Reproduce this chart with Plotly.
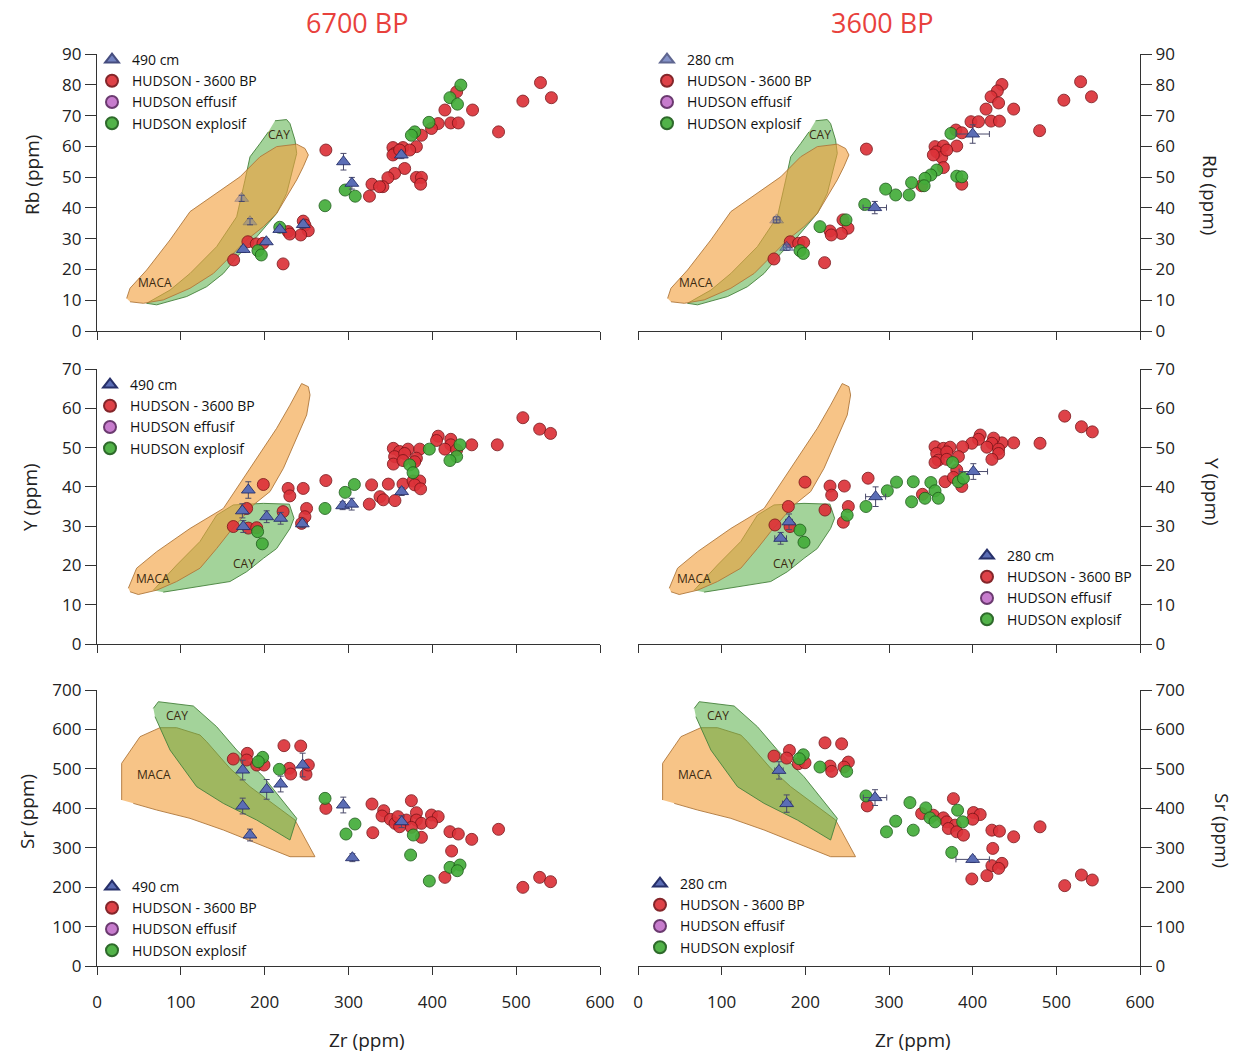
import plotly.graph_objects as go

# ---------------- tick values ----------------
ZR_TICKS = [0, 100, 200, 300, 400, 500, 600]
RB_TICKS = [0, 10, 20, 30, 40, 50, 60, 70, 80, 90]
Y_TICKS = [0, 10, 20, 30, 40, 50, 60, 70]
SR_TICKS = [0, 100, 200, 300, 400, 500, 600, 700]

COL_TITLES = ["6700 BP", "3600 BP"]
ROW_TITLES = ["Rb (ppm)", "Y (ppm)", "Sr (ppm)"]
TRI_NAMES = ["490 cm", "280 cm"]
SERIES_NAMES = ["HUDSON - 3600 BP", "HUDSON effusif", "HUDSON explosif"]

# ---------------- reference fields (MACA / CAY) ----------------
MACA_RB_X = [35.4, 39.4, 59.2, 87.1, 111, 142.7, 170.6, 194.4, 214.3, 238.2, 248.1, 252.1, 246.1, 238.2, 226.2, 214.3, 198.4, 178.5, 158.6, 138.8, 111, 79.1, 55.3, 39.4]
MACA_RB_Y = [10.6, 13.9, 19.8, 29.6, 38.8, 44.7, 50.1, 56.6, 59.9, 60.7, 59.3, 57.2, 53.4, 49.1, 43.6, 38.2, 33.9, 29.6, 24.1, 18.7, 13.9, 10.1, 9.0, 9.5]
CAY_RB_X = [212.3, 226.2, 230.2, 236.2, 238.2, 232.2, 226.2, 214.3, 190.5, 170.6, 150.7, 130.8, 107, 71.2, 59.2, 87.1, 111, 142.7, 166.6, 176.5, 182.5, 194.4, 204.4]
CAY_RB_Y = [68.3, 68.7, 67.4, 62, 57.7, 51.2, 44.7, 38.2, 30.6, 25.2, 18.7, 14.4, 11.2, 8.5, 9.0, 13.3, 18.7, 27.4, 37.1, 49, 56.6, 60.9, 64.7]

MACA_Y_X = [37.4, 47.3, 71.2, 110.9, 150.7, 182.5, 214.3, 230.2, 244.1, 252.1, 254.1, 250.1, 238.2, 222.3, 206.4, 186.5, 158.6, 142.7, 122.9, 95, 71.2, 49.3, 39.4]
MACA_Y_Y = [14.2, 19.3, 23.5, 29.4, 34.5, 44.7, 54.9, 60.8, 66.3, 65.5, 63.4, 58.3, 52.4, 44.7, 38.8, 35.4, 28.6, 24.3, 19.3, 15.9, 13.7, 12.6, 13.3]
CAY_Y_X = [67.2, 95, 122.9, 142.7, 162.6, 198.4, 229.4, 235, 230.2, 214.3, 198.4, 178.5, 158.6, 110.9, 79.1]
CAY_Y_Y = [13.7, 20.1, 26.1, 32.8, 35.4, 35.8, 35.6, 32, 29.4, 24.3, 21.8, 18.4, 15.9, 14.2, 13.2]

MACA_SR_X = [29.4, 29.4, 51.3, 75.1, 95, 122.9, 130.8, 158.6, 182.5, 236.2, 260, 230.2, 150.7, 110.9, 71.2, 43.3]
MACA_SR_Y = [421, 514, 581.6, 604.4, 604.4, 585.8, 568.9, 501.3, 454.8, 370.2, 277.2, 277.2, 344.9, 374.5, 395.6, 412.5]
CAY_SR_X = [67.2, 73.2, 114.9, 142.7, 166.6, 198.4, 238.2, 230.2, 190.5, 150.7, 118.9, 87.1, 69.2]
CAY_SR_Y = [653.4, 670.3, 659.4, 607, 547.8, 480.1, 374.5, 319.5, 370.2, 412.5, 454.8, 547.8, 632.3]

# field label anchor points (data coords)
LBL_RB = {"MACA": (69, 15.7), "CAY": (217, 63.8)}
LBL_Y = {"MACA": (67, 16.7), "CAY": (175, 20.5)}
LBL_SR = {"MACA": (68, 485), "CAY": (96, 635)}

# ---------------- 6700 BP : Rb ----------------
TL_RED_X = [529, 508, 542, 479, 448, 429, 415, 422, 431, 407, 399, 387, 353, 365, 381, 355, 373, 353, 367, 355, 347, 341, 328, 325, 381, 387, 386, 337, 361, 273, 246, 248, 252, 243, 228, 230, 180, 190, 198, 163, 222]
TL_RED_Y = [80.7, 74.7, 75.8, 64.7, 71.8, 77.7, 71.8, 67.6, 67.6, 67.4, 65.8, 63.6, 59.6, 59.6, 59.9, 57.7, 58.8, 57.2, 52.8, 51.2, 49.8, 46.9, 47.7, 43.8, 49.9, 49.9, 47.7, 46.9, 58.8, 58.8, 35.7, 34.4, 32.6, 31.2, 32.3, 31.5, 29.0, 28.3, 28.5, 23.1, 21.8]
TL_GRN_X = [434, 421, 430, 396, 379, 375, 296, 308, 272, 218, 192, 196]
TL_GRN_Y = [79.9, 75.8, 73.7, 67.8, 64.7, 63.6, 45.8, 43.8, 40.7, 33.7, 26.1, 24.7]
TL_TRI_X = [294, 304, 363, 246, 218, 202, 174.5, 182.5, 172.6]
TL_TRI_Y = [55.0, 48.0, 57.2, 34.6, 33.0, 29.0, 26.5, 35.5, 43.1]
TL_TRI_EY = [2.7, 1.9, 1.2, 1.2, 1.0, 1.0, 1.0, 1.0, 1.0]

# ---------------- 3600 BP : Rb ----------------
TR_RED_X = [529, 509, 542, 480, 449, 435, 429.5, 422, 431, 416, 398, 407, 422, 432, 380, 387, 355, 365, 381, 357, 363, 369, 353, 365, 387, 339, 273, 245, 251, 243, 229.5, 231, 182, 192, 198, 162.5, 223]
TR_RED_Y = [81, 75, 76.1, 65.1, 72.1, 80.1, 78, 76.1, 74.1, 72.1, 68, 68, 68.2, 68.2, 65.3, 64.4, 59.9, 60.1, 60.1, 58.2, 56.4, 58.8, 57.2, 53.1, 47.7, 47.2, 59.1, 36.1, 33.4, 31.7, 32.5, 31.2, 29, 28.5, 28.8, 23.4, 22.2]
TR_GRN_X = [374, 357, 350, 343, 342, 327, 324, 308, 296, 381, 387, 271, 217.5, 248.6, 193.6, 197.6]
TR_GRN_Y = [64.2, 52.3, 50.7, 49.6, 47.2, 48.2, 44.2, 44.2, 46.1, 50.3, 50.1, 41.1, 33.9, 36.1, 26.1, 25.2]
TR_TRI_X = [400, 283, 177.7, 165.7]
TR_TRI_Y = [64, 40.1, 27.2, 36.1]
TR_TRI_EX = [20, 14, 4, 4]
TR_TRI_EY = [3, 2, 1, 1]

# ---------------- 6700 BP : Y ----------------
ML_RED_X = [508, 528, 541, 477.5, 447, 407, 405, 422, 422, 415, 429, 353.5, 361, 371, 385, 355, 367, 381, 353.5, 365, 379, 347.5, 365, 377, 385, 379, 386, 337.6, 341.5, 355.4, 324.8, 327.6, 273, 246, 228, 230, 198.4, 178.5, 250, 248, 244, 222, 162.6, 180.5, 190.5]
ML_RED_Y = [57.6, 54.7, 53.6, 50.7, 50.7, 52.9, 51.8, 52.1, 50.7, 49.6, 49.4, 49.8, 49.0, 49.6, 49.6, 47.7, 48.5, 47.3, 45.8, 46.7, 46.4, 40.7, 40.7, 41.5, 41.5, 40.5, 39.5, 37.5, 36.7, 36.5, 35.6, 40.5, 41.6, 39.6, 39.6, 37.7, 40.6, 34.5, 34.5, 32.4, 30.7, 33.7, 29.9, 29.5, 29.6]
ML_GRN_X = [433, 396.4, 429, 421, 373, 377, 307, 296, 272, 191.6, 197.2]
ML_GRN_Y = [50.7, 49.6, 47.7, 46.7, 45.6, 43.6, 40.6, 38.6, 34.5, 28.6, 25.5]
ML_TRI_X = [180.5, 173.4, 174.5, 202.4, 219.1, 244.9, 293, 303.8, 363.4]
ML_TRI_Y = [39.2, 33.9, 29.9, 32.4, 32, 30.6, 35.2, 35.6, 38.8]
ML_TRI_EY = [2.1, 1.8, 1.5, 1.5, 1.5, 1.0, 1.0, 1.5, 1.0]

# ---------------- 3600 BP : Y ----------------
MR_RED_X = [510, 530, 543, 480.5, 449, 435, 409, 407, 425, 423, 417, 431, 431, 423, 399, 388, 355, 365, 373, 357, 369, 359, 369, 383, 355, 381, 367, 377, 387, 340, 275, 229.5, 246.6, 231.5, 199.6, 179.7, 251.4, 223.5, 245.4, 163.7, 181.7]
MR_RED_Y = [58, 55.3, 54, 51.1, 51.2, 51.2, 53.2, 52.1, 52.4, 51.1, 50.1, 49.6, 48.5, 47, 51.1, 50.2, 50.2, 49.8, 50.1, 48.5, 48.9, 46.8, 47, 47.7, 46.2, 44.3, 41.3, 42.4, 40.1, 38.1, 42.2, 40.2, 40.2, 37.9, 41.2, 35, 35, 34.1, 31, 30.3, 29.9]
MR_GRN_X = [376, 383, 389, 329, 350, 355, 343, 359, 327, 309, 298, 272.5, 250, 193.6, 198.4]
MR_GRN_Y = [46.2, 41.3, 42.2, 41.3, 41.1, 39, 37.1, 37.1, 36.2, 41.2, 39, 35, 32.8, 29, 25.9]
MR_TRI_X = [400.8, 284, 180.5, 170.5]
MR_TRI_Y = [43.9, 37.5, 31.1, 26.9]
MR_TRI_EX = [17, 12, 4, 7]
MR_TRI_EY = [2, 2.5, 2, 1.5]

# ---------------- 6700 BP : Sr ----------------
BL_RED_X = [479, 508, 528, 541, 447, 421, 431, 423, 415, 328, 375, 342, 340, 350, 355.5, 369, 381, 381, 387, 399, 407, 399, 375, 387, 329, 361, 359, 273, 223, 243, 162.6, 179.3, 178.5, 190.5, 199.2, 229.4, 231, 249.3, 252.1]
BL_RED_Y = [346.6, 199.5, 224.8, 213.8, 321.2, 340.6, 334.7, 291.6, 224.8, 410.8, 419.3, 393.9, 380.4, 371.9, 361.8, 370.2, 388.8, 370.2, 361.8, 382.9, 378.7, 363.5, 351.6, 326.3, 338.1, 353.3, 378.7, 399.8, 558.8, 557.9, 524.9, 539.3, 522.4, 509.7, 509.7, 501.3, 486.9, 486.1, 509.7]
BL_GRN_X = [197.6, 192.4, 217.5, 272, 307.7, 297, 377.3, 374.1, 421.1, 433, 429.8, 396.4]
BL_GRN_Y = [529.2, 518.2, 498.7, 425.2, 360.1, 334.7, 332.2, 281.5, 250.2, 256.1, 241.7, 215.5]
BL_TRI_X = [173.8, 202.4, 219.1, 245.3, 173.8, 182.5, 293.8, 363.4, 304.6]
BL_TRI_Y = [497, 448, 461.5, 509.7, 405.7, 332.2, 408.3, 366, 274.7]
BL_TRI_EY = [25, 25, 20, 30, 20, 15, 20, 15, 10]

# ---------------- 3600 BP : Sr ----------------
BR_RED_X = [480.5, 510, 530, 543, 449, 423, 432, 424, 423, 435, 431, 417, 399, 377, 339, 353, 365, 369, 379, 371, 381, 389, 401, 409, 400, 274, 223.5, 243.4, 162.5, 181, 177.7, 191.6, 199.6, 229.5, 231.5, 251.4, 246.2]
BR_RED_Y = [353, 203.8, 230.8, 218.1, 327.7, 344.5, 342, 298.2, 254.4, 260.3, 247.6, 229.1, 220.7, 424.5, 386.6, 382.4, 375.7, 365.6, 357.2, 348.7, 340.3, 331.9, 389.2, 384.1, 372.3, 406, 566, 563.5, 532.4, 546.7, 527.3, 513, 515.5, 507.1, 493.6, 517.2, 504.6]
BR_GRN_X = [325, 329, 344, 349, 355, 382, 388, 375, 308, 297, 272.5, 217.5, 249.4, 197.6, 192.8]
BR_GRN_Y = [414.4, 344.5, 401, 375.7, 365.6, 395.1, 365.6, 288.1, 367.3, 340.3, 431.3, 504.6, 493.6, 535.7, 525.6]
BR_TRI_X = [168.5, 177.7, 283.3, 400]
BR_TRI_Y = [496.1, 411.9, 427.1, 270.4]
BR_TRI_EX = [5, 5, 14, 20]
BR_TRI_EY = [22, 22, 20, 8]

# ---------------- styles ----------------
FONT = "Open Sans, Lato, sans-serif"
W, H = 1241, 1054
RED = "#dc3239"; RED_LINE = "#7a1418"
GRN = "#44ad3a"; GRN_LINE = "#1d5e1a"
BLU = "#5b6db5"; BLU_LINE = "#27306a"
PUR = "#c77ccd"; PUR_LINE = "#6b3a70"
MACA_FILL = "rgba(242,160,62,0.62)"; MACA_LINE = "rgba(175,120,60,0.9)"
CAY_FILL = "rgba(78,170,62,0.52)"; CAY_LINE = "rgba(70,130,60,0.9)"
AXC = "#333333"
TITLE_RED = "#e8413c"

# pixel layout of the six plot areas
COL_PX = [(97, 600), (638, 1140)]
ROW_PX = [(54, 331), (369, 644), (690, 966)]

# legend anchors (left px, top px) per panel
LEG_PX = [(92, 44), (647, 44), (90, 369), (967, 540), (92, 871), (640, 868)]
TRI_ALPHA = {0: [1, 1, 1, 1, 1, 1, 1, 0.35, 0.35], 1: [1, 1, 0.6, 0.35]}

panels = [
    dict(red=(TL_RED_X, TL_RED_Y), grn=(TL_GRN_X, TL_GRN_Y), tri=(TL_TRI_X, TL_TRI_Y, None, TL_TRI_EY)),
    dict(red=(TR_RED_X, TR_RED_Y), grn=(TR_GRN_X, TR_GRN_Y), tri=(TR_TRI_X, TR_TRI_Y, TR_TRI_EX, TR_TRI_EY)),
    dict(red=(ML_RED_X, ML_RED_Y), grn=(ML_GRN_X, ML_GRN_Y), tri=(ML_TRI_X, ML_TRI_Y, None, ML_TRI_EY)),
    dict(red=(MR_RED_X, MR_RED_Y), grn=(MR_GRN_X, MR_GRN_Y), tri=(MR_TRI_X, MR_TRI_Y, MR_TRI_EX, MR_TRI_EY)),
    dict(red=(BL_RED_X, BL_RED_Y), grn=(BL_GRN_X, BL_GRN_Y), tri=(BL_TRI_X, BL_TRI_Y, None, BL_TRI_EY)),
    dict(red=(BR_RED_X, BR_RED_Y), grn=(BR_GRN_X, BR_GRN_Y), tri=(BR_TRI_X, BR_TRI_Y, BR_TRI_EX, BR_TRI_EY)),
]
fields = [
    (MACA_RB_X, MACA_RB_Y, CAY_RB_X, CAY_RB_Y, LBL_RB, "cay_first"),
    (MACA_Y_X, MACA_Y_Y, CAY_Y_X, CAY_Y_Y, LBL_Y, "cay_first"),
    (MACA_SR_X, MACA_SR_Y, CAY_SR_X, CAY_SR_Y, LBL_SR, "maca_first"),
]
row_ticks = [RB_TICKS, Y_TICKS, SR_TICKS]
row_ranges = [[0, 90], [0, 70], [0, 700]]

fig = go.Figure()
annotations = []
layout = dict()

for i, p in enumerate(panels):
    row, col = divmod(i, 2)
    n = i + 1
    xa = "x" if n == 1 else f"x{n}"
    ya = "y" if n == 1 else f"y{n}"
    leg = "legend" if n == 1 else f"legend{n}"
    mx, my, cx, cy, lbl, order = fields[row]

    maca = go.Scatter(x=mx, y=my, mode="lines", fill="toself", fillcolor=MACA_FILL,
                      line=dict(color=MACA_LINE, width=1), hoverinfo="skip",
                      showlegend=False, xaxis=xa, yaxis=ya)
    cay = go.Scatter(x=cx, y=cy, mode="lines", fill="toself", fillcolor=CAY_FILL,
                     line=dict(color=CAY_LINE, width=1), hoverinfo="skip",
                     showlegend=False, xaxis=xa, yaxis=ya)
    if order == "cay_first":
        fig.add_trace(cay); fig.add_trace(maca)
    else:
        fig.add_trace(maca); fig.add_trace(cay)

    fig.add_trace(go.Scatter(x=p["red"][0], y=p["red"][1], mode="markers", name=SERIES_NAMES[0],
                             marker=dict(symbol="circle", size=12, color=RED, opacity=0.92,
                                         line=dict(color=RED_LINE, width=0.9)),
                             xaxis=xa, yaxis=ya, legend=leg, legendrank=2))
    fig.add_trace(go.Scatter(x=[None], y=[None], mode="markers", name=SERIES_NAMES[1],
                             marker=dict(symbol="circle", size=12, color=PUR,
                                         line=dict(color=PUR_LINE, width=0.9)),
                             xaxis=xa, yaxis=ya, legend=leg, legendrank=3))
    fig.add_trace(go.Scatter(x=p["grn"][0], y=p["grn"][1], mode="markers", name=SERIES_NAMES[2],
                             marker=dict(symbol="circle", size=12, color=GRN, opacity=0.92,
                                         line=dict(color=GRN_LINE, width=0.9)),
                             xaxis=xa, yaxis=ya, legend=leg, legendrank=4))
    tx, ty, tex, tey = p["tri"]
    err_y = dict(type="data", array=tey, visible=True, color="#4a4a6a", thickness=1, width=3)
    err_x = dict(type="data", array=tex, visible=True, color="#4a4a6a", thickness=1, width=3) if tex else None
    fig.add_trace(go.Scatter(x=tx, y=ty, mode="markers", name=TRI_NAMES[col],
                             marker=dict(symbol="triangle-up", size=12, color=BLU,
                                         opacity=TRI_ALPHA.get(i, 1),
                                         line=dict(color=BLU_LINE, width=0.9)),
                             error_y=err_y, error_x=err_x,
                             xaxis=xa, yaxis=ya, legend=leg, legendrank=1))

    # field labels
    for name, (lx, ly) in lbl.items():
        annotations.append(dict(x=lx, y=ly, xref=xa, yref=ya, text=name, showarrow=False,
                                xanchor="center", yanchor="middle",
                                font=dict(family=FONT, size=12, color="#3b2a10")))

    # axes
    x0, x1 = COL_PX[col]
    y0, y1 = ROW_PX[row]
    layout["xaxis" if n == 1 else f"xaxis{n}"] = dict(
        domain=[x0 / W, x1 / W], range=[0, 600], tickvals=ZR_TICKS,
        ticktext=[str(v) for v in ZR_TICKS], showticklabels=(row == 2),
        ticks="outside", ticklen=8, tickwidth=1.3, tickcolor=AXC, ticklabelstandoff=12,
        showline=True, linecolor=AXC, linewidth=1.3, showgrid=False, zeroline=False,
        anchor=ya, automargin=False, tickfont=dict(family=FONT, size=17, color="#222"))
    layout["yaxis" if n == 1 else f"yaxis{n}"] = dict(
        domain=[1 - y1 / H, 1 - y0 / H], range=row_ranges[row], tickvals=row_ticks[row],
        ticktext=[str(v) for v in row_ticks[row]],
        ticks="outside", ticklen=11, tickwidth=1.3, tickcolor=AXC,
        showline=True, linecolor=AXC, linewidth=1.3, showgrid=False, zeroline=False,
        side="left" if col == 0 else "right", anchor=xa, automargin=False,
        tickfont=dict(family=FONT, size=17, color="#222"))

    lx, ly = LEG_PX[i]
    layout[leg] = dict(x=lx / W, y=1 - ly / H, xanchor="left", yanchor="top",
                       bgcolor="rgba(0,0,0,0)", borderwidth=0,
                       font=dict(family=FONT, size=14, color="#111"),
                       itemsizing="constant", tracegroupgap=0)

# column titles
for col, t in enumerate(COL_TITLES):
    annotations.append(dict(x=[357, 882][col] / W, y=1 - 22 / H, xref="paper", yref="paper",
                            text=t, showarrow=False, xanchor="center", yanchor="middle",
                            font=dict(family=FONT, size=27, color=TITLE_RED)))
# x titles
for col in range(2):
    annotations.append(dict(x=[367, 913][col] / W, y=1 - 1040 / H, xref="paper", yref="paper",
                            text="Zr (ppm)", showarrow=False, xanchor="center", yanchor="middle",
                            font=dict(family=FONT, size=19, color="#222")))
# y titles
LEFT_TITLE_PX = [(32, 175), (30, 497), (27, 812)]
RIGHT_TITLE_PX = [(1210, 195), (1212, 492), (1222, 830)]
for r, t in enumerate(ROW_TITLES):
    px, py = LEFT_TITLE_PX[r]
    annotations.append(dict(x=px / W, y=1 - py / H, xref="paper", yref="paper", text=t,
                            showarrow=False, textangle=-90, xanchor="center", yanchor="middle",
                            font=dict(family=FONT, size=19, color="#222")))
    px, py = RIGHT_TITLE_PX[r]
    annotations.append(dict(x=px / W, y=1 - py / H, xref="paper", yref="paper", text=t,
                            showarrow=False, textangle=90, xanchor="center", yanchor="middle",
                            font=dict(family=FONT, size=19, color="#222")))

fig.update_layout(width=W, height=H, margin=dict(l=0, r=0, t=0, b=0, autoexpand=False),
                  paper_bgcolor="white", plot_bgcolor="white",
                  annotations=annotations, font=dict(family=FONT), **layout)

fig.write_html("out.html", config={"displayModeBar": False},
               post_script="document.body.style.margin='0';document.body.style.overflow='hidden';")
